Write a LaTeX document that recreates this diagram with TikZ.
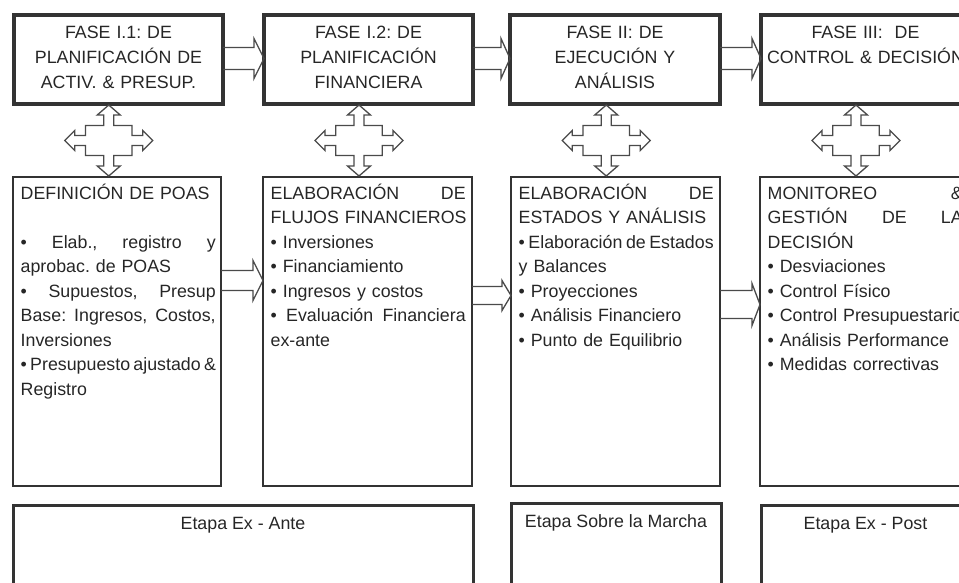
\documentclass[tikz,border=0pt]{standalone}
\usepackage{fontspec}
\setmainfont{Liberation Sans}
\usepackage{xcolor}
\usetikzlibrary{calc}

\definecolor{boxline}{HTML}{333333}
\definecolor{arrline}{HTML}{4A4A4A}
\definecolor{txtgray}{HTML}{262626}
\newcommand{\jline}[1]{\makebox[195pt][s]{\spaceskip=0pt\xspaceskip=0pt #1}}
\frenchspacing

\begin{document}
\begin{tikzpicture}[x=1pt, y=-1pt,
    fasebox/.style={draw=boxline, line width=3.5pt, anchor=north west, outer sep=0pt, inner sep=0pt, minimum width=209pt, minimum height=89pt},
    actbox/.style={draw=boxline, line width=2.8pt, anchor=north west, outer sep=0pt, inner sep=0pt, minimum width=209pt, minimum height=309pt},
    stagebox/.style={draw=boxline, line width=3pt, anchor=north west, outer sep=0pt, inner sep=0pt, minimum height=100pt},
    fasetxt/.style={anchor=base, inner sep=0pt, text width=205pt, align=center, text=txtgray, font=\fontsize{17.8}{25}\selectfont},
    acttxt/.style={anchor=base west, inner sep=0pt, text width=215pt, align=left, text=txtgray, font=\fontsize{17.8}{24.5}\selectfont},
    stagetxt/.style={anchor=base, inner sep=0pt, text=txtgray, font=\fontsize{17.8}{21}\selectfont},
    blockarr/.style={draw=arrline, line width=1.3pt, line join=miter},
    quadarr/.style={draw=arrline, line width=1.3pt}
]
        \useasboundingbox (0,0) rectangle (959,582);
        \clip (0,0) rectangle (959,582);

        \node[fasebox] (fase1) at (14,15) {};
        \node[fasebox] (fase2) at (264,15) {};
        \node[fasebox, minimum width=210pt] (fase3) at (510,15) {};
        \node[fasebox] (fase4) at (761,15) {};

        \node[actbox, minimum width=208pt] (act1) at (13,177) {};
        \node[actbox] (act2) at (263,177) {};
        \node[actbox] (act3) at (511,177) {};
        \node[actbox] (act4) at (760,177) {};

        \node[stagebox, minimum width=460pt] (exante) at (13,505) {};
        \node[stagebox, minimum width=210pt] (sobre) at (511,503) {};
        \node[stagebox, minimum width=209pt] (expost) at (761,505) {};

        \node[fasetxt] (fase1txt) at ([yshift=-23pt]fase1.north) {FASE I.1: DE\\ PLANIFICACIÓN DE\\ ACTIV. \& PRESUP.};
        \node[fasetxt] (fase2txt) at ([yshift=-23pt]fase2.north) {FASE I.2: DE\\ PLANIFICACIÓN\\ FINANCIERA};
        \node[fasetxt] (fase3txt) at ([yshift=-23pt]fase3.north) {FASE II: DE\\ EJECUCIÓN Y\\ ANÁLISIS};
        \node[fasetxt] (fase4txt) at ([yshift=-23pt]fase4.north) {FASE III:~ DE\\ CONTROL \& DECISIÓN};

        \node[acttxt] (act1txt) at ([xshift=7.5pt,yshift=-22pt]act1.north west) {DEFINICIÓN DE POAS\\[24.5pt]
            \jline{• Elab., registro y}\\ aprobac. de POAS\\ \jline{• Supuestos, Presup}\\
            \jline{Base: Ingresos, Costos,}\\ Inversiones\\ \jline{• Presupuesto ajustado \&}\\ Registro};
        \node[acttxt] (act2txt) at ([xshift=7.5pt,yshift=-22pt]act2.north west) {\jline{ELABORACIÓN DE}\\
            \mbox{FLUJOS FINANCIEROS}\\ • Inversiones\\ • Financiamiento\\ • Ingresos y costos\\
            \jline{• Evaluación Financiera}\\ ex-ante};
        \node[acttxt] (act3txt) at ([xshift=7.5pt,yshift=-22pt]act3.north west) {\jline{ELABORACIÓN DE}\\
            ESTADOS Y ANÁLISIS\\ \jline{• Elaboración de Estados}\\ y Balances\\ • Proyecciones\\
            • Análisis Financiero\\ • Punto de Equilibrio};
        \node[acttxt] (act4txt) at ([xshift=7.5pt,yshift=-22pt]act4.north west) {\jline{MONITOREO \&}\\
            \jline{GESTIÓN DE LA}\\ DECISIÓN\\ • Desviaciones\\ • Control Físico\\
            \mbox{• Control Presupuestario}\\ • Análisis Performance\\ • Medidas correctivas};

        \node[stagetxt] (exantetxt) at ([yshift=-24pt]exante.north) {Etapa Ex - Ante};
        \node[stagetxt] (sobretxt) at ([yshift=-24pt]sobre.north) {Etapa Sobre la Marcha};
        \node[stagetxt] (expostxt) at ([yshift=-24pt]expost.north) {Etapa Ex - Post};

        \foreach \a/\b/\dy/\s/\h/\l in {fase1/fase2/1/11/20/10, fase2/fase3/1/11/20/9, fase3/fase4/1/11/20/9,
                act1/act2/51/10/20/10, act2/act3/36/9/15/9, act3/act4/27/14/21/8} {
            \path ([yshift=\dy]\a.east) coordinate (tl) ([yshift=\dy]\b.west) coordinate (tp);
            \draw[blockarr] ([yshift=-\s]tl) -- ([xshift=-\l,yshift=-\s]tp) -- ([xshift=-\l,yshift=-\h]tp) -- (tp)
                -- ([xshift=-\l,yshift=\h]tp) -- ([xshift=-\l,yshift=\s]tp) -- ([yshift=\s]tl);
        }

        \foreach \c in {1,...,4}
            \draw[quadarr, shift={($(fase\c.south)!0.5!(act\c.north)+(-9,0)$)}] (0,-35.5) -- (11.5,-25.5) -- (5,-25.5)
                -- (5,-15) -- (23.3,-15) -- (23.3,-5) -- (34,-5) -- (34,-10) -- (44,0) -- (34,10) -- (34,5)
                -- (23.3,5) -- (23.3,15) -- (5,15) -- (5,25.5) -- (11.5,25.5) -- (0,35.5) -- (-11.5,25.5)
                -- (-5,25.5) -- (-5,15) -- (-23.3,15) -- (-23.3,5) -- (-34,5) -- (-34,10) -- (-44,0) -- (-34,-10)
                -- (-34,-5) -- (-23.3,-5) -- (-23.3,-15) -- (-5,-15) -- (-5,-25.5) -- (-11.5,-25.5) -- cycle;
\end{tikzpicture}
\end{document}
